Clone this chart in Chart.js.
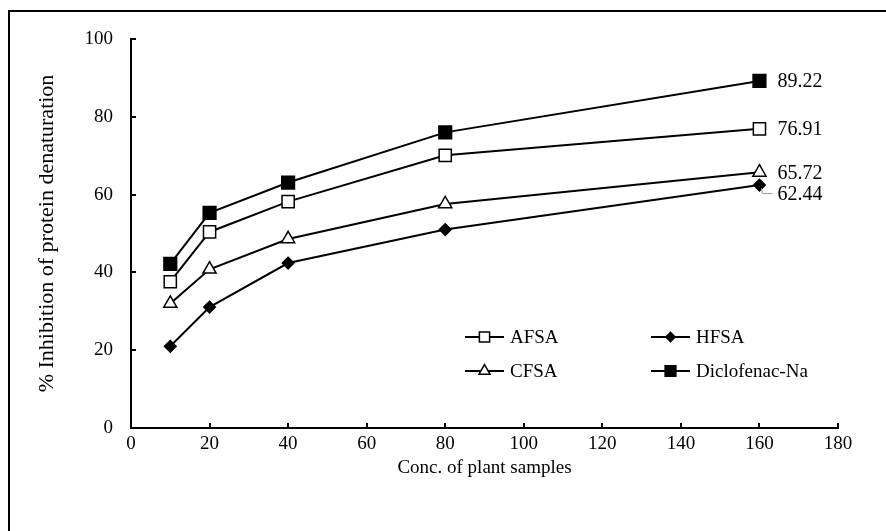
<!DOCTYPE html>
<html>
<head>
<meta charset="utf-8">
<script src="https://cdn.jsdelivr.net/npm/chart.js@4/dist/chart.umd.min.js"></script>
<style>
  html, body { margin: 0; padding: 0; background: #fff; }
  #wrap { width: 886px; height: 531px; position: relative; }
</style>
</head>
<body>
<div id="wrap"><canvas id="c" width="886" height="531"></canvas></div>
<script>
// ---- data ----
const concentrations = [10, 20, 40, 80, 160];
const afsa = [37.6, 50.4, 58.2, 70.1, 76.91];
const hfsa = [21.0, 31.1, 42.4, 51.0, 62.44];
const cfsa = [32.0, 40.8, 48.6, 57.6, 65.72];
const diclofenac = [42.2, 55.3, 63.1, 76.0, 89.22];
const seriesNames = ['AFSA', 'HFSA', 'CFSA', 'Diclofenac-Na'];
const endLabels = ['76.91', '62.44', '65.72', '89.22'];
const xTitle = 'Conc. of plant samples';
const yTitle = '% Inhibition of protein denaturation';

const FONT = "'Liberation Serif', 'Times New Roman', serif";

function pts(arr) { return concentrations.map((x, i) => ({ x: x, y: arr[i] })); }

const styles = [
  { pointStyle: 'rect', radius: 8.6, bg: '#fff', lr: 7.2 },
  { pointStyle: 'rectRot', radius: 5.8, bg: '#000', lr: 4.6 },
  { pointStyle: 'triangle', radius: 7.6, bg: '#fff', lr: 6.4 },
  { pointStyle: 'rect', radius: 9.0, bg: '#000', lr: 7.6 }
];
const values = [afsa, hfsa, cfsa, diclofenac];

const datasets = values.map((v, i) => ({
  label: seriesNames[i],
  data: pts(v),
  borderColor: '#000',
  borderWidth: 2,
  pointStyle: styles[i].pointStyle,
  pointRadius: styles[i].radius,
  pointHoverRadius: styles[i].radius,
  pointBackgroundColor: styles[i].bg,
  pointBorderColor: '#000',
  pointBorderWidth: 1.5,
  fill: false,
  tension: 0
}));

const frame = {
  id: 'frame',
  beforeDraw(chart) {
    const ctx = chart.ctx;
    ctx.save();
    ctx.fillStyle = '#fff';
    ctx.fillRect(0, 0, chart.width, chart.height);
    ctx.strokeStyle = '#000';
    ctx.lineWidth = 2;
    ctx.strokeRect(9, 11, 1000, 1000);
    ctx.restore();
  }
};

const innerTicks = {
  id: 'innerTicks',
  afterDraw(chart) {
    const ctx = chart.ctx;
    const xs = chart.scales.x, ys = chart.scales.y;
    ctx.save();
    ctx.strokeStyle = '#000';
    ctx.lineWidth = 2;
    ctx.beginPath();
    xs.ticks.forEach(t => {
      if (t.value === 0) return;
      const px = Math.round(xs.getPixelForValue(t.value));
      ctx.moveTo(px, ys.bottom);
      ctx.lineTo(px, ys.bottom - 5);
    });
    ys.ticks.forEach(t => {
      if (t.value === 0) return;
      const py = Math.round(ys.getPixelForValue(t.value));
      ctx.moveTo(xs.left, py);
      ctx.lineTo(xs.left + 5, py);
    });
    ctx.stroke();
    ctx.restore();
  }
};

const legendAndLabels = {
  id: 'legendAndLabels',
  afterDatasetsDraw(chart) {
    const ctx = chart.ctx;
    ctx.save();
    // end-point value labels
    ctx.font = '20px ' + FONT;
    ctx.fillStyle = '#000';
    ctx.textBaseline = 'middle';
    ctx.textAlign = 'left';
    const lastIdx = concentrations.length - 1;
    const offsets = [0, 9, 0, 0];
    values.forEach((v, i) => {
      const meta = chart.getDatasetMeta(i);
      const p = meta.data[lastIdx];
      ctx.fillText(endLabels[i], p.x + 18, p.y + offsets[i] + 1);
    });
    // leader line for HFSA label
    const ph = chart.getDatasetMeta(1).data[lastIdx];
    ctx.strokeStyle = '#999';
    ctx.lineWidth = 1;
    ctx.beginPath();
    ctx.moveTo(ph.x + 2, ph.y + 3);
    ctx.lineTo(ph.x + 3, ph.y + 8.5);
    ctx.lineTo(ph.x + 13, ph.y + 8.5);
    ctx.stroke();

    // legend
    const items = [
      { i: 0, x: 465, y: 337 },
      { i: 1, x: 651, y: 337 },
      { i: 2, x: 465, y: 371 },
      { i: 3, x: 651, y: 371 }
    ];
    items.forEach(it => {
      const s = styles[it.i];
      ctx.strokeStyle = '#000';
      ctx.lineWidth = 2;
      ctx.beginPath();
      ctx.moveTo(it.x, it.y);
      ctx.lineTo(it.x + 39, it.y);
      ctx.stroke();
      ctx.fillStyle = s.bg;
      ctx.strokeStyle = '#000';
      ctx.lineWidth = 1.5;
      Chart.helpers.drawPoint(ctx, { pointStyle: s.pointStyle, radius: s.lr, rotation: 0, borderWidth: 1.5 }, it.x + 19.5, it.y);
      ctx.fillStyle = '#000';
      ctx.font = '19px ' + FONT;
      ctx.textBaseline = 'middle';
      ctx.textAlign = 'left';
      ctx.fillText(seriesNames[it.i], it.x + 45, it.y + 1);
    });
    ctx.restore();
  }
};

new Chart(document.getElementById('c'), {
  type: 'line',
  data: { datasets: datasets },
  options: {
    responsive: false,
    animation: false,
    devicePixelRatio: 1,
    layout: { padding: { top: 39, right: 48, left: 0, bottom: 0 } },
    plugins: {
      legend: { display: false },
      tooltip: { enabled: false }
    },
    scales: {
      x: {
        type: 'linear',
        min: 0, max: 180,
        afterFit(scale) { scale.height = 103; },
        ticks: { stepSize: 20, color: '#000', font: { family: FONT, size: 19 }, padding: 5, maxRotation: 0 },
        grid: { drawOnChartArea: false, drawTicks: false },
        border: { display: true, color: '#000', width: 2 },
        title: { display: true, text: xTitle, color: '#000', font: { family: FONT, size: 19 }, padding: { top: 0, bottom: 52 } }
      },
      y: {
        type: 'linear',
        min: 0, max: 100,
        afterFit(scale) { scale.width = 131; },
        ticks: { stepSize: 20, color: '#000', font: { family: FONT, size: 19 }, padding: 18 },
        grid: { drawOnChartArea: false, drawTicks: false },
        border: { display: true, color: '#000', width: 2 },
        title: { display: true, text: yTitle, color: '#000', font: { family: FONT, size: 22 }, padding: { top: 34, bottom: 0 } }
      }
    }
  },
  plugins: [frame, innerTicks, legendAndLabels]
});
</script>
</body>
</html>
